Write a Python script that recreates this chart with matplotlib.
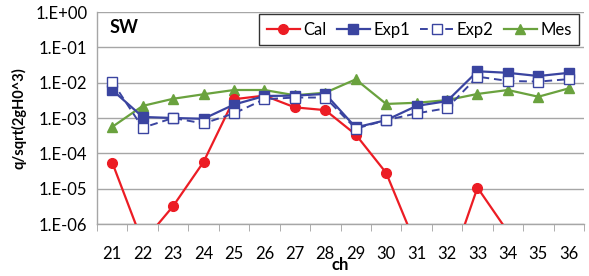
import numpy as np
import matplotlib
matplotlib.use("Agg")
import matplotlib.pyplot as plt
from matplotlib.ticker import FixedLocator, FuncFormatter

plt.rcParams['font.family'] = ['Lato', 'DejaVu Sans']

# valores
ch = list(range(21, 37))
cal = [5.5e-5, 3e-7, 3.2e-6, 5.7e-5, 3.4e-3, 4.3e-3, 2.0e-3, 1.67e-3,
       3.4e-4, 2.8e-5, 2.3e-7, 3.4e-8, 1.07e-5, 6e-7, 1e-9, 1e-9]
exp1 = [6.2e-3, 1.07e-3, 1.0e-3, 0.95e-3, 2.4e-3, 4.2e-3, 4.3e-3, 4.8e-3,
        5.4e-4, 8.7e-4, 2.2e-3, 3.0e-3, 2.1e-2, 1.9e-2, 1.54e-2, 1.9e-2]
exp2 = [1.07e-2, 5.3e-4, 1.0e-3, 7.0e-4, 1.35e-3, 3.4e-3, 3.8e-3, 3.8e-3,
        5.0e-4, 8.7e-4, 1.35e-3, 1.9e-3, 1.48e-2, 1.12e-2, 1.07e-2, 1.26e-2]
mes = [5.6e-4, 2.2e-3, 3.5e-3, 4.7e-3, 6.2e-3, 6.2e-3, 4.4e-3, 5.2e-3,
       1.24e-2, 2.5e-3, 2.7e-3, 3.2e-3, 4.8e-3, 6.2e-3, 4.0e-3, 6.9e-3]

red = '#EC1C24'
blue = '#3A44A0'
green = '#6AA23E'

fig = plt.figure(figsize=(5.89, 2.76), dpi=100)
ax = fig.add_axes([0.1647, 0.1884, 0.8268, 0.7681])

x = np.arange(len(ch))
ax.plot(x, cal, color=red, marker='o', ms=7, lw=1.6, label='Cal', zorder=3)
ax.plot(x, exp1, color=blue, marker='s', ms=7, lw=1.6, label='Exp1', zorder=4)
ax.plot(x, exp2, color=blue, marker='s', ms=6.5, mfc='white', mew=1.0, lw=1.4,
        ls=(0, (4, 2.5)), label='Exp2', zorder=5)
ax.plot(x, mes, color=green, marker='^', ms=7, lw=1.6, label='Mes', zorder=2)

ax.set_yscale('log')
ax.set_ylim(1e-6, 1)
ax.set_xlim(-0.5, len(ch) - 0.5)
ax.yaxis.set_major_locator(FixedLocator([10.0 ** k for k in range(-6, 1)]))
ax.yaxis.set_minor_locator(FixedLocator([]))
ax.yaxis.set_major_formatter(FuncFormatter(lambda v, p: "1.E%+03d" % round(np.log10(v))))
ax.set_xticks(x)
ax.set_xticklabels([str(c) for c in ch])
ax.set_xticks(np.arange(-0.5, len(ch)), minor=True)
ax.tick_params(axis='x', which='major', length=0, pad=16, labelsize=12)
ax.tick_params(axis='x', which='minor', length=5, color='#A0A0A0', direction='out')
ax.tick_params(axis='y', which='major', length=0, pad=7, labelsize=12)

ax.grid(True, axis='y', color='#A6A6A6', lw=1.0)
ax.set_axisbelow(True)
for s in ['top', 'right']:
    ax.spines[s].set_visible(False)
for s in ['left', 'bottom']:
    ax.spines[s].set_color('#A6A6A6')
    ax.spines[s].set_linewidth(1.0)

ax.set_xlabel('ch', fontweight='bold', fontsize=12, labelpad=-4)
ax.set_ylabel('q/sqrt(2gH0^3)', fontweight='bold', fontsize=10.5, labelpad=6)
ax.text(0.025, 0.925, 'SW', transform=ax.transAxes, fontweight='bold', fontsize=13,
        va='center')

leg = ax.legend(loc='upper right', ncol=4, bbox_to_anchor=(0.99, 0.99), frameon=True,
                fancybox=False, edgecolor='black', fontsize=12, handlelength=2.0,
                handletextpad=0.2, columnspacing=0.6, borderpad=0.45, borderaxespad=0.0)
leg.get_frame().set_linewidth(1.0)

fig.savefig('out.png', dpi=100)
